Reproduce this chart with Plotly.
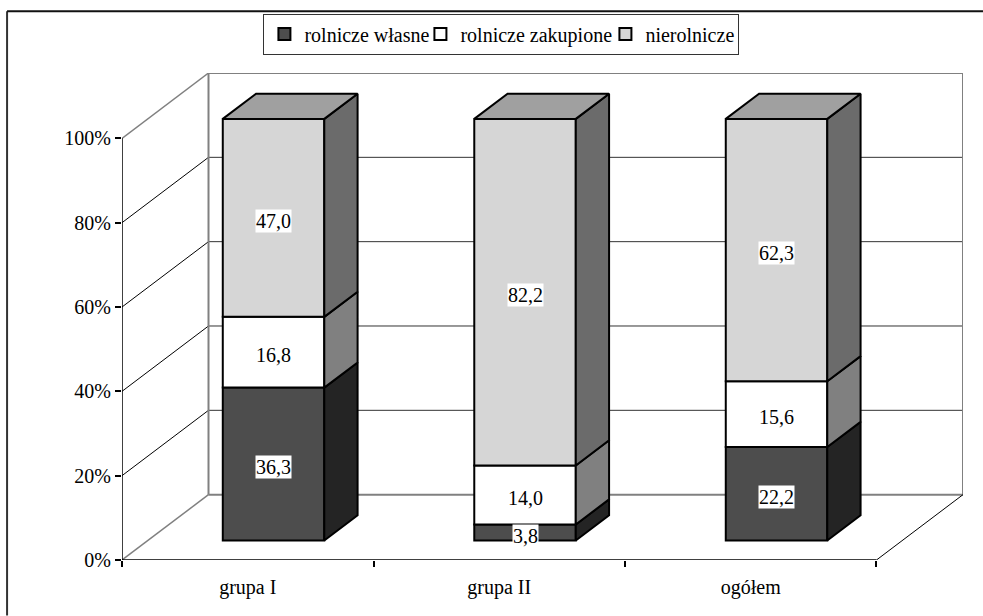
import plotly.graph_objects as go

categories = ["grupa I", "grupa II", "ogółem"]
series_names = ["rolnicze własne", "rolnicze zakupione", "nierolnicze"]
rolnicze_wlasne = [36.3, 3.8, 22.2]
rolnicze_zakupione = [16.8, 14.0, 15.6]
nierolnicze = [47.0, 82.2, 62.3]
y_ticks = [0, 20, 40, 60, 80, 100]
y_tick_labels = ["0%", "20%", "40%", "60%", "80%", "100%"]
front_colors = ["#4d4d4d", "#ffffff", "#d6d6d6"]
side_colors = ["#242424", "#808080", "#6b6b6b"]
top_color = "#a0a0a0"
legend_widths = [111, 140, 88]

FONT = "Liberation Serif"
W, H = 983, 616
DX, DY = 0.344, 15.5          # depth of the floor in axis units
BAR_W = 0.4036
OFF = 0.298                    # bar front position inside the depth
BAR_D = 0.385                  # bar depth as a share of the floor depth

series = [rolnicze_wlasne, rolnicze_zakupione, nierolnicze]
fig = go.Figure()
positions = [i + DX * OFF for i in range(len(categories))]
base0 = DY * OFF
dx, dy = DX * BAR_D, DY * BAR_D

# percent-stacked shares per category
totals = [sum(s[i] for s in series) for i in range(len(categories))]
shares = [[s[i] / totals[i] * 100 for i in range(len(categories))] for s in series]

annots = []
cum = [base0] * len(categories)
for k, name in enumerate(series_names):
    bases = list(cum)
    fig.add_trace(go.Bar(
        x=positions, y=shares[k], base=bases, width=BAR_W, name=name,
        legendwidth=legend_widths[k],
        marker=dict(color=front_colors[k], line=dict(color="black", width=2)),
    ))
    for i, p in enumerate(positions):
        x1 = p + BAR_W / 2
        y0, y1 = bases[i], bases[i] + shares[k][i]
        fig.add_trace(go.Scatter(
            x=[x1, x1 + dx, x1 + dx, x1, x1], y=[y0, y0 + dy, y1 + dy, y1, y0],
            mode="lines", fill="toself", fillcolor=side_colors[k],
            line=dict(color="black", width=2), showlegend=False, hoverinfo="skip",
            cliponaxis=False,
        ))
        annots.append(dict(
            x=p, y=(y0 + y1) / 2, xref="x", yref="y", yshift=-3,
            text=f"{series[k][i]:.1f}".replace(".", ","), showarrow=False,
            bgcolor="white", borderpad=0, font=dict(family=FONT, size=20, color="black"),
        ))
        cum[i] = y1

for p, c in zip(positions, cum):
    x0, x1 = p - BAR_W / 2, p + BAR_W / 2
    fig.add_trace(go.Scatter(
        x=[x0, x1, x1 + dx, x0 + dx, x0], y=[c, c, c + dy, c + dy, c],
        mode="lines", fill="toself", fillcolor=top_color,
        line=dict(color="black", width=2), showlegend=False, hoverinfo="skip",
        cliponaxis=False,
    ))

x_l, x_r = -0.5, len(categories) - 0.5
shapes = []
def seg(x0, y0, x1, y1, color, width):
    shapes.append(dict(type="line", xref="x", yref="y", x0=x0, y0=y0, x1=x1, y1=y1,
                       line=dict(color=color, width=width), layer="below"))

for t in y_ticks[1:-1]:
    seg(x_l, t, x_l + DX, t + DY, "black", 1)
    seg(x_l + DX, t + DY, x_r + DX, t + DY, "#333333", 1)
gray = "#808080"
seg(x_l, 0, x_l + DX, DY, gray, 1.5)
seg(x_l, 100, x_l + DX, 100 + DY, gray, 1.5)
seg(x_l + DX, DY, x_l + DX, 100 + DY, gray, 2)
seg(x_l + DX, 100 + DY, x_r + DX, 100 + DY, gray, 2)
seg(x_r + DX, DY, x_r + DX, 100 + DY, gray, 2)
seg(x_l + DX, DY, x_r + DX, DY, gray, 2)
seg(x_r, 0, x_r + DX, DY, "black", 1)
seg(x_l, 0, x_l, 100, "black", 1.5)
seg(x_l, 0, x_r, 0, "black", 1.5)

# chart-area frame: only left and top sides are inside the picture
PL, PR, PT, PB = 121.5, 20, 72.5, 55.5
pw, ph = W - PL - PR, H - PT - PB
fx = (6.5 - PL) / pw
fy = 1 + (PT - 10.5) / ph
shapes.append(dict(type="line", xref="paper", yref="paper", x0=fx, x1=fx, y0=fy,
                   y1=-PB / ph, line=dict(color="#333333", width=2)))
shapes.append(dict(type="line", xref="paper", yref="paper", x0=fx, x1=1 + PR / pw, y0=fy,
                   y1=fy, line=dict(color="#111111", width=2)))

fig.update_layout(
    width=W, height=H, margin=dict(l=PL, r=PR, t=PT, b=PB, pad=0),
    paper_bgcolor="white", plot_bgcolor="white",
    font=dict(family=FONT, size=20, color="black"),
    barmode="overlay", shapes=shapes, annotations=annots,
    legend=dict(orientation="h", x=(263 - PL) / pw, y=1 + (PT - 13) / ph,
                xanchor="left", yanchor="top", bordercolor="#333333", borderwidth=1,
                bgcolor="white", font=dict(family=FONT, size=20), itemclick=False,
                itemwidth=30, tracegroupgap=0),
    xaxis=dict(range=[x_l, x_r + DX], tickmode="array",
               tickvals=list(range(len(categories))), ticktext=categories,
               tickfont=dict(family=FONT, size=20),
               showgrid=False, zeroline=False, showline=False, ticks="",
               ticklabelstandoff=13,
               minor=dict(tickmode="array", tickvals=[x_l + i for i in range(len(categories) + 1)],
                          ticks="outside", ticklen=6, tickcolor="black", tickwidth=1.5, showgrid=False)),
    yaxis=dict(range=[0, 100 + DY], tickmode="array", tickvals=y_ticks, ticktext=y_tick_labels,
               tickfont=dict(family=FONT, size=20),
               showgrid=False, zeroline=False, showline=False, ticks="outside",
               ticklen=6, tickcolor="black", tickwidth=1.5),
)
fig.write_html("out.html", config={"displayModeBar": False},
               post_script="document.body.style.margin='0';document.body.style.overflow='hidden';")
